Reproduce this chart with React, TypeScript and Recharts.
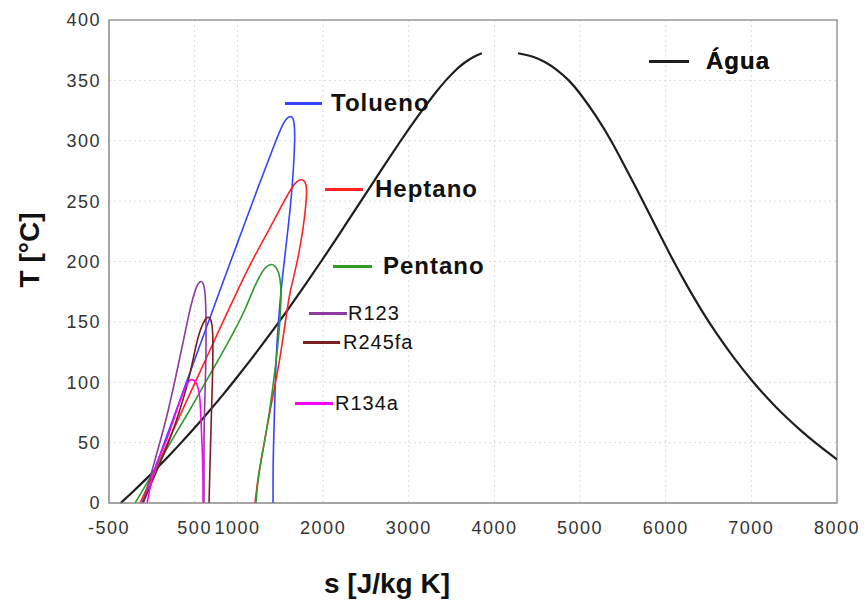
import React from 'react';
import { LineChart, Line, XAxis, YAxis, CartesianGrid, ReferenceArea, Legend } from 'recharts';

const xTicks = [-500, 500, 1000, 2000, 3000, 4000, 5000, 6000, 7000, 8000];
const yTicks = [0, 50, 100, 150, 200, 250, 300, 350, 400];

// água: liquid and vapour branches (gap at the critical point)
const aguaLiqS = [-363, -211, -65, 76, 212, 344, 472, 596, 717, 835, 949, 1171, 1383, 1587, 1785, 1977, 2165, 2350, 2533, 2718, 2905, 3100, 3312, 3430, 3569, 3654, 3765, 3854];
const aguaLiqT = [0, 10, 20, 30, 40, 50, 60, 70, 80, 90, 100, 120, 140, 160, 180, 200, 220, 240, 260, 280, 300, 320, 340, 350, 360, 365, 370, 372.5];
const aguaVapS = [4275, 4457, 4598, 4711, 4875, 4994, 5195, 5366, 5514, 5662, 5806, 5947, 6093, 6247, 6413, 6594, 6795, 7021, 7145, 7279, 7422, 7577, 7744, 7925, 8000];
const aguaVapT = [372.5, 370, 365, 360, 350, 340, 320, 300, 280, 260, 240, 220, 200, 180, 160, 140, 120, 100, 90, 80, 70, 60, 50, 40, 36];

const toluenoS = [-115, 95, 329, 563, 796, 1030, 1263, 1438, 1543, 1613, 1660, 1672, 1660, 1637, 1602, 1555, 1508, 1473, 1450, 1438, 1426, 1415, 1415];
const toluenoT = [0, 39.8, 85.3, 130.9, 176.4, 221.1, 265.9, 298.2, 316.7, 321, 319, 304.8, 284.1, 259.2, 234.4, 205.4, 176.4, 145.8, 118.4, 91.1, 60.5, 31.5, 0];

const heptanoS = [-138, 95, 329, 563, 796, 1030, 1205, 1380, 1532, 1648, 1730, 1788, 1812, 1800, 1765, 1718, 1683, 1613, 1578, 1497, 1380, 1298, 1240, 1205];
const heptanoT = [0, 35.6, 72.9, 108.5, 144.9, 180.5, 205.4, 227.8, 248.5, 263.4, 268.5, 267, 260.8, 246.8, 226.1, 207, 195, 175, 159.8, 118.4, 77.0, 43.9, 21.5, 0];

const pentanoS = [-196, -21, 212, 446, 621, 796, 971, 1088, 1181, 1263, 1321, 1380, 1438, 1485, 1508, 1508, 1497, 1473, 1438, 1380, 1298, 1240, 1216];
const pentanoT = [0, 20.7, 49.7, 77.0, 99.4, 120.9, 143.3, 159.8, 176.4, 188.8, 195, 198, 197, 191.3, 180.5, 168.1, 151.6, 130.9, 110.2, 77.0, 43.9, 21.5, 0];

const r123S = [-103, 37, 177, 271, 364, 422, 481, 527, 563, 598, 621, 633, 633, 633, 621, 609, 609, 609];
const r123T = [0, 35.6, 71.2, 101.9, 132.5, 153.2, 170.6, 180.5, 184, 183, 176.4, 159.8, 143.3, 118.4, 91.1, 60.5, 35.6, 0];

const r245faS = [-103, 37, 177, 271, 364, 446, 527, 586, 644, 691, 714, 714, 703, 691, 679, 668];
const r245faT = [0, 23.2, 46.4, 64.6, 85.3, 106.0, 135.0, 147.5, 155, 153, 143.3, 118.4, 89.4, 62.9, 31.5, 0];

const r134aS = [-56, 14, 95, 177, 271, 352, 411, 446, 492, 527, 563, 574, 586, 598, 598];
const r134aT = [0, 24.8, 39.8, 52.2, 72.9, 89.4, 99, 102.5, 102, 99.4, 89.4, 68.7, 49.7, 27.3, 0];

const toPoints = (s: number[], t: number[]) => s.map((v, i) => ({ s: v, T: t[i] }));

const series = [
  { key: 'agua-liq', name: 'Água', color: '#1e1e1e', width: 2.2, data: toPoints(aguaLiqS, aguaLiqT), legend: true },
  { key: 'agua-vap', name: 'Água', color: '#1e1e1e', width: 2.2, data: toPoints(aguaVapS, aguaVapT), legend: false },
  { key: 'tolueno', name: 'Tolueno', color: '#3344ff', width: 1.6, data: toPoints(toluenoS, toluenoT), legend: true },
  { key: 'heptano', name: 'Heptano', color: '#ff2222', width: 1.6, data: toPoints(heptanoS, heptanoT), legend: true },
  { key: 'pentano', name: 'Pentano', color: '#2e9a2e', width: 1.6, data: toPoints(pentanoS, pentanoT), legend: true },
  { key: 'r123', name: 'R123', color: '#8e3a9e', width: 1.6, data: toPoints(r123S, r123T), legend: true },
  { key: 'r245fa', name: 'R245fa', color: '#7a1f1f', width: 1.6, data: toPoints(r245faS, r245faT), legend: true },
  { key: 'r134a', name: 'R134a', color: '#ff00ff', width: 1.6, data: toPoints(r134aS, r134aT), legend: true },
];

// where each legend entry sits inside the plot (container px)
const legendPos: Record<string, { x: number; y: number; w: number; gap: number; bold: boolean }> = {
  'Água': { x: 641, y: 53, w: 40, gap: 17, bold: true },
  Tolueno: { x: 277, y: 95, w: 37, gap: 9, bold: true },
  Heptano: { x: 317, y: 181, w: 38, gap: 12, bold: true },
  Pentano: { x: 325, y: 258, w: 39, gap: 11, bold: true },
  R123: { x: 301, y: 305, w: 38, gap: 1, bold: false },
  R245fa: { x: 295, y: 334, w: 37, gap: 3, bold: false },
  R134a: { x: 287, y: 395, w: 38, gap: 2, bold: false },
};

const renderLegend = (props: any) => {
  const payload = props.payload || [];
  return (
    <div style={{ position: 'relative', width: 0, height: 0 }}>
      {payload.map((entry: any) => {
        const pos = legendPos[entry.value];
        if (!pos) return null;
        return (
          <div
            key={entry.value}
            style={{
              position: 'absolute',
              left: pos.x,
              top: pos.y,
              transform: 'translateY(-50%)',
              display: 'flex',
              alignItems: 'center',
              whiteSpace: 'nowrap',
            }}
          >
            <span style={{ display: 'inline-block', width: pos.w, height: 3, background: entry.color, marginRight: pos.gap }} />
            <span
              style={{
                fontSize: pos.bold ? 24 : 20,
                fontWeight: pos.bold ? 'bold' : 'normal',
                letterSpacing: 1,
                color: '#111',
                lineHeight: 1,
              }}
            >
              {entry.value}
            </span>
          </div>
        );
      })}
    </div>
  );
};

export default function App() {
  return (
    <div style={{ position: 'relative', width: 858, height: 595, fontFamily: '"Liberation Sans", Arial, sans-serif', background: '#fff' }}>
      <LineChart width={858} height={595} margin={{ top: 12, right: 29, left: 41, bottom: 60 }}>
        <CartesianGrid stroke="#dcdcdc" strokeDasharray="2 3" />
        <XAxis
          dataKey="s"
          type="number"
          domain={[-500, 8000]}
          ticks={xTicks}
          interval={0}
          allowDataOverflow
          height={40}
          tickLine={false}
          tickMargin={12}
          stroke="#9a9a9a"
          tick={{ fontSize: 18, fill: '#333', letterSpacing: 1.5 }}
        />
        <YAxis
          dataKey="T"
          type="number"
          domain={[0, 400]}
          ticks={yTicks}
          interval={0}
          width={60}
          tickLine={false}
          stroke="#9a9a9a"
          tick={{ fontSize: 18, fill: '#333', letterSpacing: 1.5 }}
        />
        <ReferenceArea x1={-500} x2={8000} y1={0} y2={400} fill="none" stroke="#9a9a9a" strokeWidth={1.5} />
        {series.map((sr) => (
          <Line
            key={sr.key}
            data={sr.data}
            dataKey="T"
            name={sr.name}
            type="basis"
            stroke={sr.color}
            strokeWidth={sr.width}
            dot={false}
            activeDot={false}
            legendType={sr.legend ? 'line' : 'none'}
            isAnimationActive={false}
          />
        ))}
        <Legend
          content={renderLegend}
          wrapperStyle={{ position: 'absolute', left: 0, top: 0, width: 0, height: 0, margin: 0 }}
        />
      </LineChart>
      <div
        style={{
          position: 'absolute',
          left: 22,
          top: 242,
          transform: 'translate(-50%, -50%) rotate(-90deg)',
          fontSize: 28,
          fontWeight: 'bold',
          color: '#111',
          whiteSpace: 'nowrap',
        }}
      >
        T [°C]
      </div>
      <div
        style={{
          position: 'absolute',
          left: 379,
          top: 576,
          transform: 'translate(-50%, -50%)',
          fontSize: 28,
          fontWeight: 'bold',
          color: '#111',
          whiteSpace: 'nowrap',
        }}
      >
        s [J/kg K]
      </div>
    </div>
  );
}
